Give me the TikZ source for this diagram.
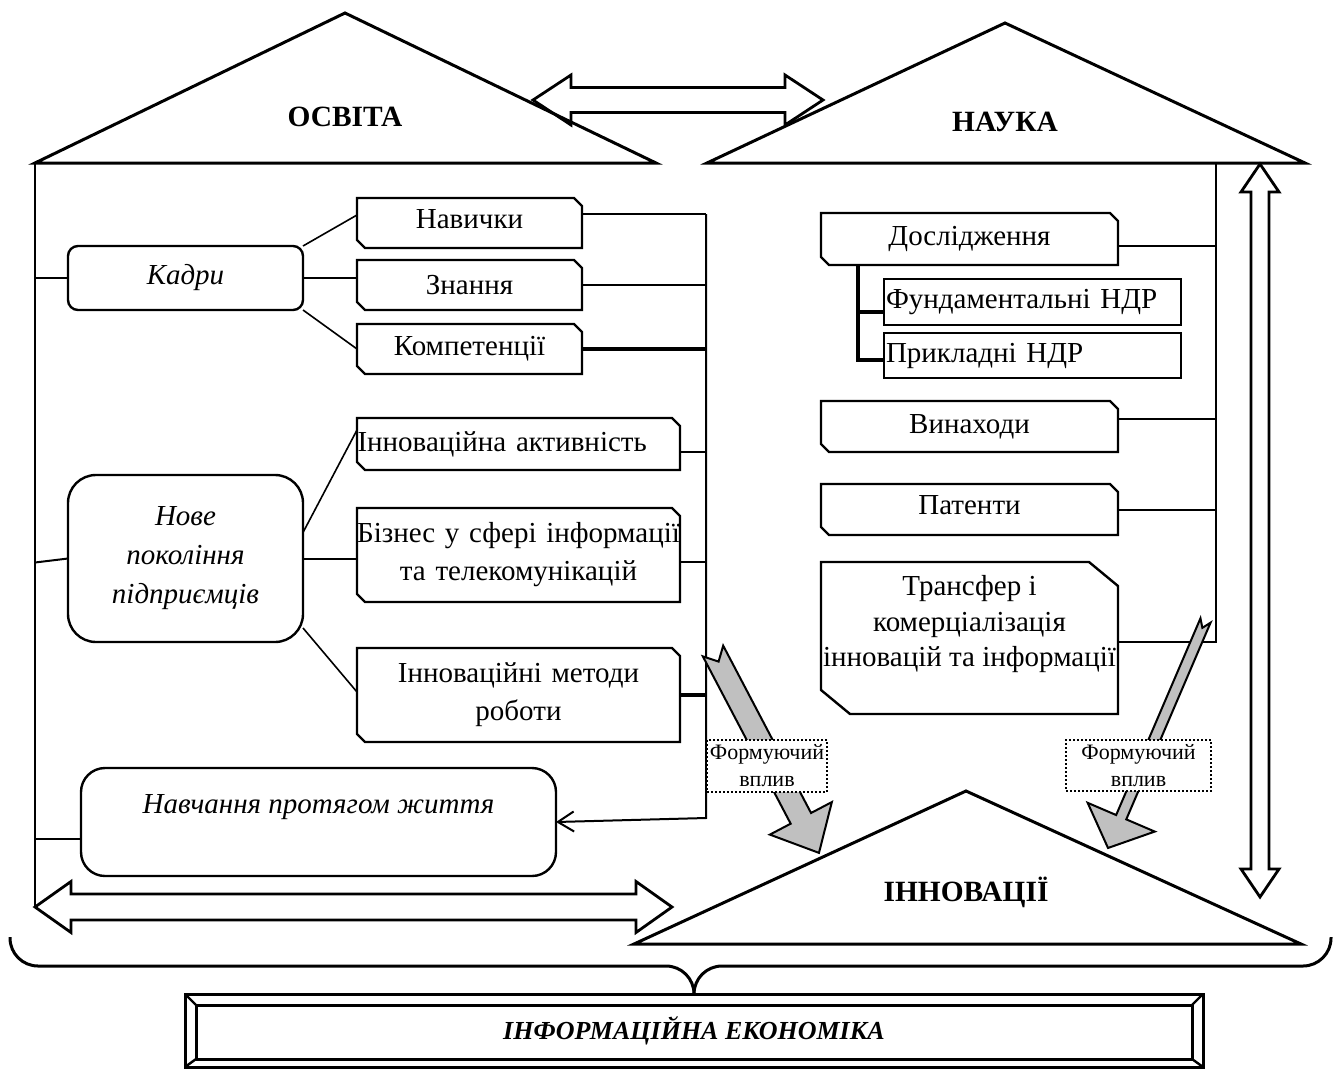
\documentclass[tikz,border=0pt]{standalone}
\usepackage{fontspec}
\setmainfont{Liberation Serif}
\usetikzlibrary{arrows.meta,calc,positioning}
\definecolor{ink}{HTML}{000000}
\definecolor{flowgray}{HTML}{C0C0C0}
\tikzset{
  basebox/.style={draw=ink,fill=white,line width=1.2pt,outer sep=0pt,inner sep=0pt,align=center,font=\fontsize{14.5}{19}\selectfont},
  cutbox/.style={basebox,draw=none,fill=none,
    append after command={\pgfextra{\draw[line width=1.2pt,line join=miter]
      (\tikzlastnode.north west) -- ([xshift=-4pt]\tikzlastnode.north east) -- ([yshift=-4pt]\tikzlastnode.north east)
      -- (\tikzlastnode.south east) -- ([xshift=4pt]\tikzlastnode.south west) -- ([yshift=4pt]\tikzlastnode.south west) -- cycle;}}},
  bigcutbox/.style={basebox,draw=none,fill=none,
    append after command={\pgfextra{\draw[line width=1.2pt,line join=miter]
      (\tikzlastnode.north west) -- ([xshift=-14.5pt]\tikzlastnode.north east) -- ([yshift=-12pt]\tikzlastnode.north east)
      -- (\tikzlastnode.south east) -- ([xshift=14.5pt]\tikzlastnode.south west) -- ([yshift=12pt]\tikzlastnode.south west) -- cycle;}}},
  roundbox/.style={basebox,rectangle,font=\fontsize{14.5}{19.5}\selectfont\itshape},
  flatbox/.style={basebox,rectangle,align=left,inner xsep=1pt},
  hintbox/.style={basebox,line width=1pt,dash pattern=on 1pt off 1pt,font=\fontsize{11}{13.5}\selectfont},
  headtext/.style={font=\fontsize{14.7}{17}\selectfont\bfseries},
  house/.style={line width=1.5pt,line join=miter},
  link/.style={line width=1pt},
  twig/.style={line width=0.8pt},
  trunkline/.style={line width=1.6pt},
  biarrow/.style={draw=ink,fill=white,line width=1.4pt,line join=miter},
  flow/.style={draw=ink,fill=flowgray,line width=1pt,line join=miter},
  bracket/.style={line width=1.5pt,rounded corners=14pt}
}
\begin{document}
\begin{tikzpicture}[x=0.5pt,y=-0.5pt]
  \useasboundingbox (0,0) rectangle (1337,1070);

  % corners of the three houses
  \coordinate (oL) at (35,163);
  \coordinate (oT) at (345,13);
  \coordinate (oR) at (656,163);
  \coordinate (nL) at (707,163);
  \coordinate (nT) at (1005,23);
  \coordinate (nR) at (1305,163);
  \coordinate (iL) at (634,944);
  \coordinate (iT) at (966,791);
  \coordinate (iR) at (1301,944);
  \coordinate (wallL) at (35,907);
  \coordinate (busL) at (706,214);
  \coordinate (busR) at (1216,163);

  % two-way arrows
  \draw[biarrow] (533,100) -- (571,75) -- (571,87.5) -- (785,87.5) -- (785,75) -- (823,100)
    -- (785,125) -- (785,112.5) -- (571,112.5) -- (571,125) -- cycle;
  \draw[biarrow] (wallL) -- (71,881.5) -- (71,894) -- (636,894) -- (636,881.5) -- (672,907)
    -- (636,932.5) -- (636,920) -- (71,920) -- (71,932.5) -- cycle;
  \draw[biarrow] (1260,164) -- (1279,192) -- (1269,192) -- (1269,869) -- (1279,869) -- (1260,897)
    -- (1241,869) -- (1251,869) -- (1251,192) -- (1241,192) -- cycle;

  \draw[house] (oL) -- (oT) -- (oR) -- cycle;
  \draw[house] (nL) -- (nT) -- (nR) -- cycle;
  \draw[house] (iL) -- (iT) -- (iR) -- cycle;
  \node[headtext] (osvita) at (345,117) {ОСВІТА};
  \node[headtext] (nauka) at (1005,122) {НАУКА};
  \node[headtext] (innov) at (966,892) {ІННОВАЦІЇ};
  \draw[link] (oL) -- (wallL);

  % education side
  \node[roundbox,rounded corners=5pt,minimum width=117.5pt,minimum height=32pt] (kadry) at (185.5,278) {Кадри};
  \node[cutbox,minimum width=112.5pt,minimum height=25pt,text depth=4pt] (navych) at (469.5,223) {Навички};
  \node[cutbox,minimum width=112.5pt,minimum height=25pt,below=6pt of navych] (znannia) {Знання};
  \node[cutbox,minimum width=112.5pt,minimum height=25pt,below=7pt of znannia] (kompet) {Компетенції};

  \node[roundbox,rounded corners=14pt,minimum width=117.5pt,minimum height=83.5pt] (pokol) at (185.5,558.5)
    {Нове\\покоління\\підприємців};
  \node[cutbox,minimum width=161.5pt,minimum height=26pt,align=left,text width=161pt] (aktyv) at (518.5,444)
    {Інноваційна активність};
  \node[cutbox,minimum width=161.5pt,minimum height=47pt,text width=161.5pt,below=19pt of aktyv] (biznes)
    {Бізнес у сфері інформації\\та телекомунікацій};
  \node[cutbox,minimum width=161.5pt,minimum height=47pt,text width=161.5pt,below=23pt of biznes] (metody)
    {Інноваційні методи\\роботи};
  \node[roundbox,rounded corners=12pt,minimum width=237.5pt,minimum height=54pt,text depth=18pt] (navch) at (318.5,822)
    {Навчання протягом життя};

  \draw[link] (kadry.west) -- (kadry.west -| oL);
  \draw[link] (pokol.west) -- ([yshift=-2pt]pokol.west -| oL);
  \draw[link] ([yshift=-8.5pt]navch.west) -- ([yshift=-8.5pt]navch.west -| oL);
  \draw[twig] (kadry.north east) -- ([yshift=4pt]navych.west);
  \draw[twig] (kadry.east) -- (kadry.east -| znannia.west);
  \draw[twig] (kadry.south east) -- (kompet.west);
  \draw[twig] ([yshift=13pt]pokol.east) -- ([yshift=7pt]aktyv.west);
  \draw[link] (pokol.east) -- (pokol.east -| biznes.west);
  \draw[twig] ([yshift=-34.75pt]pokol.east) -- ([yshift=1.5pt]metody.west);

  \draw[link] (navych.east |- busL) -- (busL);
  \draw[link] (znannia.east) -- (znannia.east -| busL);
  \draw[trunkline] (kompet.east) -- (kompet.east -| busL);
  \draw[link] ([yshift=-4pt]aktyv.east) -- ([yshift=-4pt]aktyv.east -| busL);
  \draw[link] ([yshift=-3.5pt]biznes.east) -- ([yshift=-3.5pt]biznes.east -| busL);
  \draw[trunkline] (metody.east) -- (metody.east -| busL);
  \draw[link,-{Straight Barb[length=8pt,width=10pt]}] (busL) -- (busL |- 0,818) -- (navch.east);

  % science side
  \node[cutbox,minimum width=148.5pt,minimum height=26pt] (dosl) at (969.5,239) {Дослідження};
  \node[flatbox,minimum height=23pt,text width=146.5pt] (fund) at (1032.5,302) {Фундаментальні НДР};
  \node[flatbox,minimum height=22.5pt,text width=146.5pt,below=4pt of fund] (prykl) {Прикладні НДР};
  \node[cutbox,minimum width=148.5pt,minimum height=25.5pt,below=68pt of dosl] (vynah) {Винаходи};
  \node[cutbox,minimum width=148.5pt,minimum height=25.5pt,text depth=4pt,below=16pt of vynah] (patent) {Патенти};
  \node[bigcutbox,minimum width=148.5pt,minimum height=76pt,text depth=17pt,font=\fontsize{14.5}{17.7}\selectfont,
    below=13.5pt of patent] (transf) {Трансфер і\\комерціалізація\\інновацій та інформації};
  \coordinate (trunk) at ([xshift=18.5pt]dosl.south west);

  \draw[trunkline] (trunk) |- ([yshift=-2.25pt]prykl.west);
  \draw[trunkline] ([yshift=-5pt]fund.west) -- ([yshift=-5pt]fund.west -| trunk);
  \draw[link] (busR) |- ([yshift=-2pt]transf.east);
  \draw[link] ([yshift=-3.5pt]dosl.east) -- ([yshift=-3.5pt]dosl.east -| busR);
  \draw[link] ([yshift=4pt]vynah.east) -- ([yshift=4pt]vynah.east -| busR);
  \draw[link] (patent.east) -- (patent.east -| busR);

  % shaping influence
  \draw[flow,shift={(713,651)},rotate=-62.3] (0,11.5) -- (189,11.5) -- (189,35) -- (228,0) -- (189,-35)
    -- (189,-11.5) -- (0,-11.5) -- (12,0) -- cycle;
  \draw[flow,shift={(1205.5,620.5)},rotate=-113.2] (0,5.5) -- (214,5.5) -- (214,36.5) -- (247.5,0) -- (214,-36.5)
    -- (214,-5.5) -- (0,-5.5) -- (8,0) -- cycle;
  \node[hintbox,minimum width=60pt,minimum height=26pt] (hintL) at (767,766) {Формуючий\\вплив};
  \node[hintbox,minimum width=72.5pt,minimum height=25.5pt] (hintR) at (1138.5,765.5) {Формуючий\\вплив};

  % economy
  \node[basebox,line width=1.5pt,minimum width=509pt,minimum height=36.5pt,
    font=\fontsize{13}{15}\selectfont\bfseries\itshape] (ekon) at (694,1030.5) {ІНФОРМАЦІЙНА ЕКОНОМІКА};
  \draw[line width=1.5pt] ([shift={(11,11)}]ekon.north west) rectangle ([shift={(-11,-8)}]ekon.south east);
  \draw[line width=1.2pt] (ekon.north west) -- ++(11,11) (ekon.north east) -- ++(-11,11)
    (ekon.south west) -- ++(11,-8) (ekon.south east) -- ++(-11,-8);
  \draw[bracket] (10,937) -- (10,966) -- (ekon.north |- 0,966) -- (ekon.north);
  \draw[bracket] (1331,937) -- (1331,966) -- (ekon.north |- 0,966) -- (ekon.north);
\end{tikzpicture}
\end{document}
